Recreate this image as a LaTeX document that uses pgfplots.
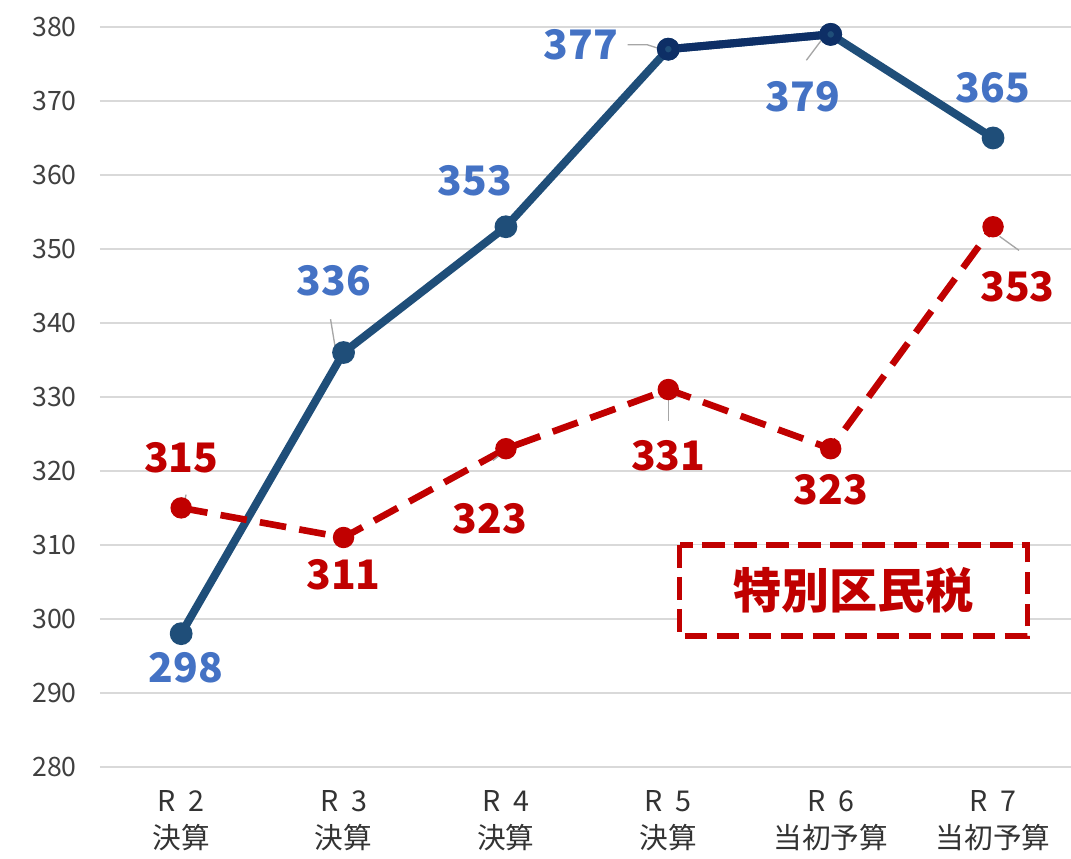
\documentclass[border=0pt]{standalone}
\usepackage{pgfplots}
\pgfplotsset{compat=1.18}
\usepackage{fontspec}
\setmainfont{Noto Sans CJK JP}
\definecolor{navy}{HTML}{1F4E79}
\definecolor{navyd}{HTML}{0E2F66}
\definecolor{lblue}{HTML}{4472C4}
\definecolor{dred}{HTML}{C00000}
\definecolor{gridg}{HTML}{D9D9D9}
\begin{document}
\begin{tikzpicture}
\begin{axis}[at={(0,0)}, anchor=south west, scale only axis,
  width=728.4pt, height=555pt,
  xmin=-0.5, xmax=5.48, ymin=280, ymax=380, clip=false,
  axis line style={draw=none},
  ytick={280,290,...,380}, xtick={0,...,5},
  xticklabels={{R\hspace{0.45em}2\\決算},{R\hspace{0.45em}3\\決算},{R\hspace{0.45em}4\\決算},{R\hspace{0.45em}5\\決算},{R\hspace{0.45em}6\\当初予算},{R\hspace{0.45em}7\\当初予算}},
  xticklabel style={align=center, font=\fontsize{21.5}{28}\selectfont, text=black!80, yshift=-14pt},
  yticklabel style={font=\fontsize{20}{24}\selectfont, text=black!75, xshift=-14pt},
  /pgf/number format/assume math mode=true,
  ymajorgrids, grid style={gridg, line width=1.8pt},
  major tick length=0pt,
]
\addplot[navy, line width=6pt, mark=*, mark size=5.5pt, mark options={fill=navy, solid}]
  coordinates {(0,298) (1,336) (2,353) (3,377) (4,379) (5,365)};
\addplot[navyd, line width=6pt, mark=*, mark size=5.5pt, mark options={fill=navy}]
  coordinates {(3,377) (4,379)};
\addplot[dred, line width=5pt, dash pattern=on 20pt off 10pt, mark=*, mark size=5.5pt, mark options={fill=dred, solid}]
  coordinates {(0,315) (1,311) (2,323) (3,331) (4,323) (5,353)};
% leader lines
\draw[gray!70, line width=1pt] (axis cs:0.95,336.5) -- (axis cs:0.92,340.5);
\draw[gray!70, line width=1pt] (axis cs:2.97,376.9) -- (axis cs:2.87,377.6) -- (axis cs:2.75,377.6);
\draw[gray!70, line width=1pt] (axis cs:3.97,379.0) -- (axis cs:3.85,375.5);
\draw[gray!70, line width=1pt] (axis cs:0.02,315.7) -- (axis cs:0.03,316.8);
\draw[gray!70, line width=1pt] (axis cs:2.0,322.8) -- (axis cs:1.92,321.4);
\draw[gray!70, line width=1pt] (axis cs:3.0,330.3) -- (axis cs:3.0,326.8);
\draw[gray!70, line width=1pt] (axis cs:5.04,351.7) -- (axis cs:5.16,349.8);
% labels
\begin{scope}[every node/.style={font=\bfseries\fontsize{30.5}{30}\selectfont, inner sep=0pt}]
\node[text=lblue] at (axis cs:0.03,293.4) {298};
\node[text=lblue] at (axis cs:0.94,345.7) {336};
\node[text=lblue] at (axis cs:1.81,359.2) {353};
\node[text=lblue] at (axis cs:2.46,377.6) {377};
\node[text=lblue] at (axis cs:3.83,370.6) {379};
\node[text=lblue] at (axis cs:5.0,371.8) {365};
\node[text=dred] at (axis cs:0,321.8) {315};
\node[text=dred] at (axis cs:1.0,305.9) {311};
\node[text=dred] at (axis cs:1.90,313.6) {323};
\node[text=dred] at (axis cs:3.0,322.0) {331};
\node[text=dred] at (axis cs:4.0,317.4) {323};
\node[text=dred] at (axis cs:5.15,344.9) {353};
\end{scope}
\draw[dred, line width=4pt, dash pattern=on 17pt off 7pt, fill=white]
  (axis cs:3.07,310.0) rectangle (axis cs:5.21,297.7);
\node[text=dred, font=\bfseries\fontsize{36}{36}\selectfont, inner sep=0pt] at (axis cs:4.14,303.8) {特別区民税};
\end{axis}
\pgfresetboundingbox
\path (-75pt,-69pt) rectangle (728.4pt,575.25pt);
\end{tikzpicture}
\end{document}
